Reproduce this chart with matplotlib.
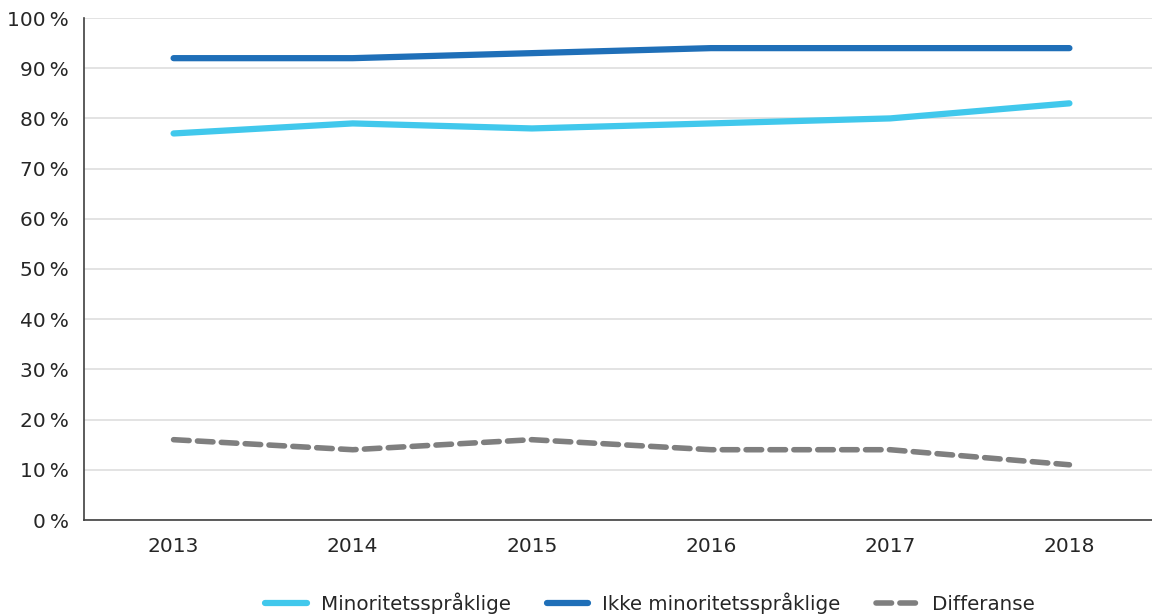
import numpy as np
import matplotlib.pyplot as plt

# data
years = ['2013', '2014', '2015', '2016', '2017', '2018']
minoritet = [77, 79, 78, 79, 80, 83]
ikke_minoritet = [92, 92, 93, 94, 94, 94]
differanse = [16, 14, 16, 14, 14, 11]
yticks = [0, 10, 20, 30, 40, 50, 60, 70, 80, 90, 100]

plt.rcParams['font.family'] = ['DejaVu Sans']

fig = plt.figure(figsize=(11.52, 6.15), dpi=100)
ax = fig.add_axes([84 / 1152, 1 - 520 / 615, (1159 - 84) / 1152, (520 - 18) / 615])

x = np.arange(len(years))
ax.plot(x, minoritet, color='#41C8EC', lw=4.5, solid_capstyle='round',
        solid_joinstyle='round', label='Minoritetsspråklige', zorder=3)
ax.plot(x, ikke_minoritet, color='#1F6FB8', lw=4.5, solid_capstyle='round',
        solid_joinstyle='round', label='Ikke minoritetsspråklige', zorder=3)
ax.plot(x, differanse, color='#7F7F7F', lw=4, dashes=(2.8, 1.5),
        dash_capstyle='round', label='Differanse', zorder=3)

ax.set_xlim(-0.5, 5.5)
ax.set_ylim(0, 100)
ax.set_xticks(x)
ax.set_xticklabels(years)
ax.set_yticks(yticks)
ax.set_yticklabels([f'{v}\u2009%' for v in yticks])
ax.tick_params(axis='both', length=0, labelsize=14.5, colors='#262626')
ax.tick_params(axis='x', pad=12)
ax.tick_params(axis='y', pad=11)

ax.grid(axis='y', color='#DEDEDE', lw=1.2)
ax.set_axisbelow(True)
for s in ['top', 'right']:
    ax.spines[s].set_visible(False)
ax.spines['left'].set_color('#404040')
ax.spines['bottom'].set_color('#404040')
ax.spines['left'].set_linewidth(1.2)
ax.spines['bottom'].set_linewidth(1.2)

leg = fig.legend(loc='center', bbox_to_anchor=(650 / 1152, 1 - 603 / 615), ncol=3,
                 frameon=False, fontsize=14.3, handlelength=2.1, handletextpad=0.7,
                 columnspacing=1.8)
for t in leg.get_texts():
    t.set_color('#262626')

fig.savefig('out.png', dpi=100)
